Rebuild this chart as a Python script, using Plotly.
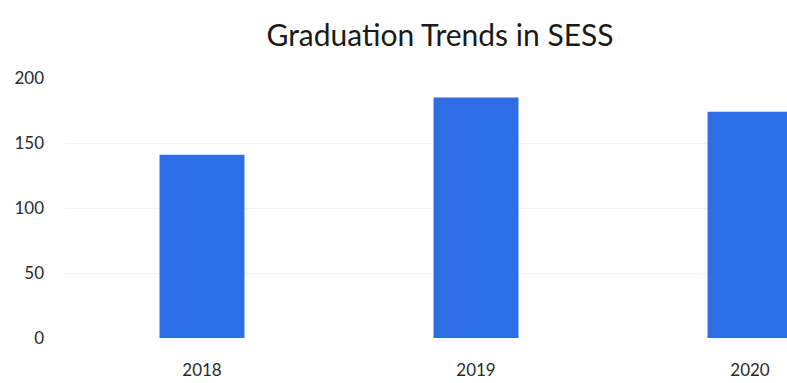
import plotly.graph_objects as go

# Graduates per year
years = ["2018", "2019", "2020"]
graduates = [141, 185, 174]
y_ticks = [0, 50, 100, 150, 200]

fig = go.Figure(
    go.Bar(
        x=years,
        y=graduates,
        marker=dict(color="#2d6ee6", line=dict(width=0)),
        width=0.31,
    )
)

fig.update_layout(
    width=787,
    height=383,
    margin=dict(l=65, r=0, t=78, b=45),
    paper_bgcolor="white",
    plot_bgcolor="white",
    showlegend=False,
    title=dict(
        text="Graduation Trends in SESS",
        x=440 / 787,
        xanchor="center",
        y=1 - 35 / 383,
        yanchor="middle",
        font=dict(family="Lato, Carlito, sans-serif", size=30, color="#1a1a1a"),
    ),
    font=dict(family="Lato, Carlito, sans-serif", size=17, color="#2a2a2a"),
)

fig.update_xaxes(
    type="category",
    range=[-0.5, 2.135],
    showline=False,
    showgrid=False,
    ticks="",
    ticklabelstandoff=20,
    tickfont=dict(size=17, color="#2a2a2a"),
)

fig.update_yaxes(
    range=[0, 200],
    tickvals=y_ticks,
    showline=False,
    showgrid=True,
    gridcolor="#f3f3f3",
    zeroline=False,
    ticks="",
    ticklabelstandoff=20,
    tickfont=dict(size=17, color="#2a2a2a"),
)

fig.write_html("out.html")
